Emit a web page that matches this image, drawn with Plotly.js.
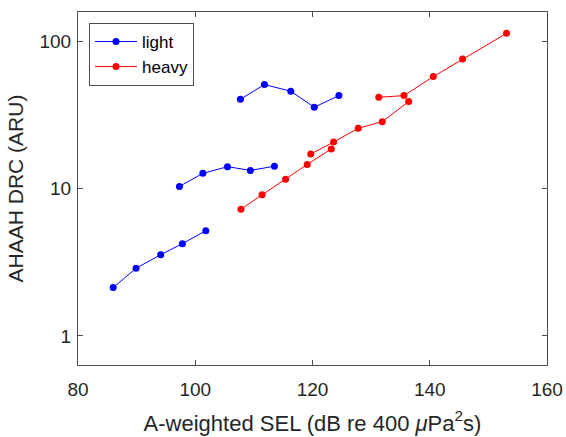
<!DOCTYPE html>
<html>
<head>
<meta charset="utf-8">
<script src="https://cdn.plot.ly/plotly-3.0.1.min.js"></script>
<style>html,body{margin:0;padding:0;background:#fff;}#chart{width:566px;height:437px;}</style>
</head>
<body>
<div id="chart"></div>
<script>
// light series: three runs of five points
const lightX1 = [86.0, 89.9, 94.1, 97.8, 101.8];
const lightY1 = [2.13, 2.88, 3.56, 4.23, 5.18];
const lightX2 = [97.3, 101.3, 105.5, 109.4, 113.5];
const lightY2 = [10.35, 12.7, 14.1, 13.3, 14.2];
const lightX3 = [107.7, 111.8, 116.3, 120.3, 124.5];
const lightY3 = [40.4, 50.9, 45.8, 35.7, 42.8];
// heavy series: three runs of five points
const heavyX1 = [107.8, 111.4, 115.4, 119.1, 123.2];
const heavyY1 = [7.26, 9.08, 11.6, 14.6, 18.6];
const heavyX2 = [119.7, 123.6, 127.8, 131.9, 136.4];
const heavyY2 = [17.2, 20.7, 25.7, 28.5, 39.0];
const heavyX3 = [131.3, 135.6, 140.6, 145.6, 153.1];
const heavyY3 = [41.7, 42.8, 57.6, 75.9, 113.3];

const xTicks = [80, 100, 120, 140, 160];
const yTicks = [1, 10, 100];
const yTickText = ['1', '10', '100'];

function joinRuns(runs) {
  const out = [];
  runs.forEach((r, i) => { if (i > 0) out.push(null); out.push(...r); });
  return out;
}

const traces = [
  {
    name: 'light', type: 'scatter', mode: 'lines+markers',
    x: joinRuns([lightX1, lightX2, lightX3]),
    y: joinRuns([lightY1, lightY2, lightY3]),
    connectgaps: false,
    line: {color: '#0000ff', width: 1},
    marker: {color: '#0000ff', size: 7}
  },
  {
    name: 'heavy', type: 'scatter', mode: 'lines+markers',
    x: joinRuns([heavyX1, heavyX2, heavyX3]),
    y: joinRuns([heavyY1, heavyY2, heavyY3]),
    connectgaps: false,
    line: {color: '#ff0000', width: 1},
    marker: {color: '#ff0000', size: 7}
  }
];

const fontFam = 'Arial, "Liberation Sans", Helvetica, sans-serif';
const axisCol = '#4d4d4d';
const layout = {
  width: 566, height: 437,
  margin: {l: 78, r: 19, t: 12, b: 72, pad: 0},
  paper_bgcolor: '#ffffff', plot_bgcolor: '#ffffff',
  font: {family: fontFam, size: 18, color: '#262626'},
  showlegend: true,
  legend: {
    x: 0.0235, y: 0.969, xanchor: 'left', yanchor: 'top',
    bgcolor: '#ffffff', bordercolor: axisCol, borderwidth: 1,
    font: {family: fontFam, size: 17, color: '#000000'},
    tracegroupgap: 0, itemwidth: 42
  },
  xaxis: {
    range: [80, 160], tickvals: xTicks, ticktext: xTicks.map(String),
    ticks: 'inside', ticklen: 5, tickcolor: axisCol, tickwidth: 1,
    showline: true, linecolor: axisCol, linewidth: 1, mirror: 'ticks',
    showgrid: false, zeroline: false,
    ticklabelstandoff: 7,
    tickfont: {size: 19, color: '#262626'},
    title: {text: 'A-weighted SEL (dB re 400 <i>μ</i>Pa<sup>2</sup>s)', font: {size: 22, color: '#262626'}, standoff: 16}
  },
  yaxis: {
    type: 'log', range: [-0.197, 2.199], tickvals: yTicks, ticktext: yTickText,
    ticks: 'inside', ticklen: 5, tickcolor: axisCol, tickwidth: 1,
    showline: true, linecolor: axisCol, linewidth: 1, mirror: 'ticks',
    showgrid: false, zeroline: false,
    ticklabelstandoff: 2,
    tickfont: {size: 19, color: '#262626'},
    title: {text: 'AHAAH DRC (ARU)', font: {size: 21, color: '#262626'}, standoff: 10}
  }
};

Plotly.newPlot('chart', traces, layout, {displayModeBar: false, staticPlot: true});
</script>
</body>
</html>
